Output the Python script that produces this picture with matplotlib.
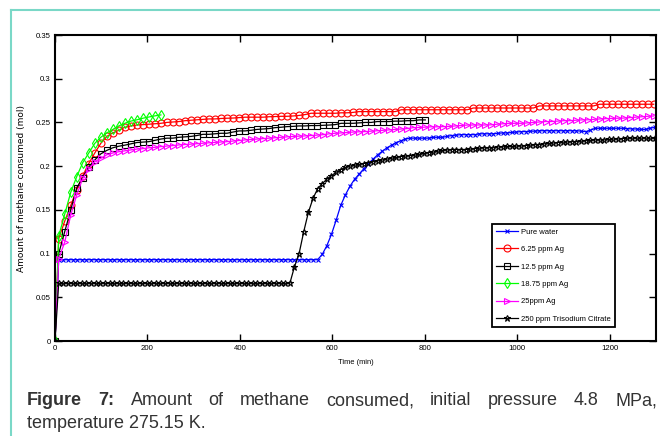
import numpy as np
import matplotlib.pyplot as plt
from matplotlib.lines import Line2D

# sampling times (min): two logging intervals
t13 = np.r_[0, np.arange(8, 1300, 13)]
t10 = np.r_[0, np.arange(8, 1300, 10)]

# amount of methane consumed (mol)
pure_water = [0] + [0.093] * 57 + [
    0.099, 0.109, 0.122, 0.138, 0.155, 0.167, 0.177, 0.185, 0.191, 0.197,
    0.203, 0.208, 0.213, 0.217, 0.221, 0.224, 0.227, 0.229, 0.231, 0.232,
    0.232, 0.232, 0.232, 0.232, 0.233, 0.233, 0.233, 0.234, 0.235, 0.2355,
    0.236, 0.236, 0.236, 0.236, 0.237, 0.237, 0.237, 0.237, 0.2375, 0.238,
    0.238, 0.2385, 0.239, 0.2395, 0.2395, 0.240, 0.240, 0.2405, 0.2405, 0.2405,
    0.2405, 0.2405, 0.2405, 0.2405, 0.2405, 0.2405, 0.240, 0.2395, 0.241, 0.2433,
    0.2433, 0.2433, 0.2433, 0.2433, 0.2433, 0.2433, 0.243, 0.2425, 0.2425, 0.242,
    0.242, 0.2435, 0.2445]

ag_625 = [0,
    0.117, 0.137, 0.155, 0.173, 0.189, 0.203, 0.215, 0.226, 0.234, 0.238,
    0.241, 0.2445, 0.246, 0.247, 0.2475, 0.248, 0.2485, 0.249, 0.250, 0.2505,
    0.251, 0.252, 0.2525, 0.253, 0.2535, 0.254, 0.254, 0.2545, 0.2548, 0.255,
    0.2555, 0.256, 0.256, 0.256, 0.256, 0.2565, 0.2567, 0.257, 0.257, 0.2574,
    0.258, 0.259, 0.2605, 0.2605, 0.2605, 0.2605, 0.2605, 0.261, 0.261, 0.2615,
    0.2624, 0.2624, 0.2624, 0.2624, 0.2624, 0.2624, 0.2624, 0.2645, 0.2645, 0.2645,
    0.2645, 0.2645, 0.2645, 0.2645, 0.2645, 0.2645, 0.2645, 0.2645, 0.2645, 0.2665,
    0.2665, 0.2665, 0.2665, 0.2665, 0.2665, 0.2665, 0.2665, 0.2665, 0.2665, 0.2665,
    0.2689, 0.2689, 0.2689, 0.2689, 0.2689, 0.2689, 0.2689, 0.2689, 0.2689, 0.2689,
    0.2708, 0.2708, 0.2708, 0.2708, 0.2708, 0.2708, 0.2708, 0.2708, 0.2708, 0.2708]

ag_125 = [0,
    0.100, 0.125, 0.150, 0.175, 0.187, 0.199, 0.207, 0.214, 0.218, 0.221,
    0.2228, 0.224, 0.2255, 0.227, 0.2275, 0.228, 0.2295, 0.231, 0.232, 0.232,
    0.233, 0.2335, 0.234, 0.235, 0.2364, 0.2364, 0.237, 0.2376, 0.2376, 0.239,
    0.2403, 0.2403, 0.241, 0.242, 0.2425, 0.243, 0.244, 0.2445, 0.2452, 0.2455,
    0.246, 0.246, 0.2464, 0.2464, 0.2467, 0.247, 0.2475, 0.249, 0.249, 0.249,
    0.2495, 0.250, 0.250, 0.251, 0.251, 0.251, 0.2515, 0.2515, 0.252, 0.252,
    0.2529, 0.2529]

ag_1875 = [0,
    0.120, 0.145, 0.170, 0.188, 0.204, 0.215, 0.226, 0.233, 0.238, 0.242,
    0.246, 0.249, 0.2515, 0.253, 0.2548, 0.2562, 0.2575, 0.2586]

ag_25 = [0,
    0.094, 0.113, 0.144, 0.167, 0.186, 0.197, 0.205, 0.209, 0.213, 0.215,
    0.2165, 0.2175, 0.2185, 0.2195, 0.220, 0.221, 0.2215, 0.2223, 0.223, 0.2235,
    0.2243, 0.2247, 0.2252, 0.2257, 0.2262, 0.2267, 0.2272, 0.2276, 0.228, 0.2287,
    0.2293, 0.230, 0.2305, 0.231, 0.2315, 0.232, 0.2325, 0.233, 0.2335, 0.234,
    0.2343, 0.2346, 0.235, 0.2355, 0.236, 0.237, 0.2376, 0.238, 0.2385, 0.239,
    0.2393, 0.2395, 0.240, 0.2405, 0.241, 0.2415, 0.242, 0.2425, 0.243, 0.244,
    0.2443, 0.2446, 0.245, 0.245, 0.2452, 0.2455, 0.246, 0.2465, 0.247, 0.2471,
    0.2471, 0.2471, 0.2473, 0.248, 0.2485, 0.249, 0.249, 0.249, 0.2495, 0.250,
    0.2505, 0.251, 0.251, 0.2515, 0.252, 0.252, 0.2525, 0.2529, 0.253, 0.2535,
    0.254, 0.2543, 0.2546, 0.2548, 0.255, 0.2555, 0.256, 0.2565, 0.257, 0.2574]

citrate = [0] + [0.066] * 51 + [
    0.085, 0.100, 0.125, 0.147, 0.163, 0.174, 0.180, 0.185, 0.189, 0.193,
    0.196, 0.1985, 0.200, 0.201, 0.202, 0.203, 0.204, 0.205, 0.206, 0.207,
    0.208, 0.209, 0.210, 0.211, 0.2115, 0.212, 0.2125, 0.2135, 0.2145, 0.2155,
    0.216, 0.217, 0.218, 0.2185, 0.219, 0.219, 0.219, 0.219, 0.2195, 0.220,
    0.2205, 0.221, 0.221, 0.221, 0.222, 0.222, 0.2225, 0.2225, 0.223, 0.223,
    0.2235, 0.224, 0.2245, 0.2245, 0.2255, 0.226, 0.2265, 0.227, 0.2273, 0.2275,
    0.228, 0.228, 0.2285, 0.229, 0.2295, 0.230, 0.230, 0.230, 0.2305, 0.231,
    0.231, 0.2315, 0.232, 0.232, 0.232, 0.232, 0.232, 0.232, 0.232]

sans = 'Liberation Sans'
W, H = 660, 436

fig = plt.figure(figsize=(6.6, 4.36), dpi=100)
ax = fig.add_axes([55 / W, 1 - 341 / H, 601 / W, 306 / H])

ax.plot(t10, pure_water, '-x', color='#0000ff', ms=3, mew=0.8, lw=0.9, label='Pure water')
ax.plot(t13, ag_625, '-o', color='#ff0000', mfc='none', ms=5, mew=0.8, lw=0.9, label='6.25 ppm Ag')
ax.plot(t13[:len(ag_125)], ag_125, '-s', color='k', mfc='none', ms=4, mew=0.8, lw=0.9, label='12.5 ppm Ag')
ax.plot(t13[:len(ag_1875)], ag_1875, '-d', color='#00ff00', mfc='none', ms=5, mew=0.8, lw=0.9, label='18.75 ppm Ag')
ax.plot(t13, ag_25, '->', color='#ff00ff', mfc='none', ms=5, mew=0.8, lw=0.9, label='25ppm Ag')
ax.plot(t10, citrate, '-*', color='k', mfc='none', ms=5, mew=0.8, lw=0.9, label='250 ppm Trisodium Citrate')

ax.set_xlim(0, 1300)
ax.set_ylim(0, 0.35)
ax.set_xticks(range(0, 1201, 200))
ax.set_yticks(np.arange(0, 0.351, 0.05))
ax.set_yticklabels(['0', '0.05', '0.1', '0.15', '0.2', '0.25', '0.3', '0.35'])
ax.tick_params(direction='in', top=True, right=True, length=5, width=1, labelsize=5.6, pad=3)
for lab in ax.get_xticklabels() + ax.get_yticklabels():
    lab.set_family(sans)
for s in ax.spines.values():
    s.set_linewidth(1.5)

ax.set_xlabel('Time (min)', fontsize=5.4, family=sans, labelpad=5)
ax.set_ylabel('Amount of methane consumed (mol)', fontsize=6.5, family='DejaVu Sans', labelpad=7)

leg = ax.legend(loc='lower left', bbox_to_anchor=((492 - 55) / 601, (341 - 327) / 306),
                borderaxespad=0, fancybox=False, framealpha=1, edgecolor='k',
                prop={'family': sans, 'size': 5.5}, handlelength=2.9,
                handletextpad=0.3, labelspacing=1.32, borderpad=0.55, numpoints=1)
leg.get_frame().set_linewidth(1.3)

# teal frame lines of the page
fc = '#7ad8c7'
fig.add_artist(Line2D([11 / W, 11 / W], [0, 1 - 10 / H], transform=fig.transFigure, color=fc, lw=1.5))
fig.add_artist(Line2D([11 / W, 1], [1 - 10 / H, 1 - 10 / H], transform=fig.transFigure, color=fc, lw=1.5))

# caption, first line justified
cap_col = '#333333'
words = [('Figure', 'bold'), ('7:', 'bold'), ('Amount', 'normal'), ('of', 'normal'),
         ('methane', 'normal'), ('consumed,', 'normal'), ('initial', 'normal'),
         ('pressure', 'normal'), ('4.8', 'normal'), ('MPa,', 'normal')]
texts = [fig.text(0, 1 - 405 / H, w, fontsize=13, weight=wt, color=cap_col,
                  family=sans, va='baseline') for w, wt in words]
fig.canvas.draw()
r = fig.canvas.get_renderer()
widths = [t.get_window_extent(r).width for t in texts]
gap = (657 - 27 - sum(widths)) / (len(words) - 1)
x = 27
for t, w in zip(texts, widths):
    t.set_x(x / W)
    x += w + gap
fig.text(27 / W, 1 - 428 / H, 'temperature 275.15 K.', fontsize=13, color=cap_col,
         family=sans, va='baseline')

fig.savefig('out.png', dpi=100)
